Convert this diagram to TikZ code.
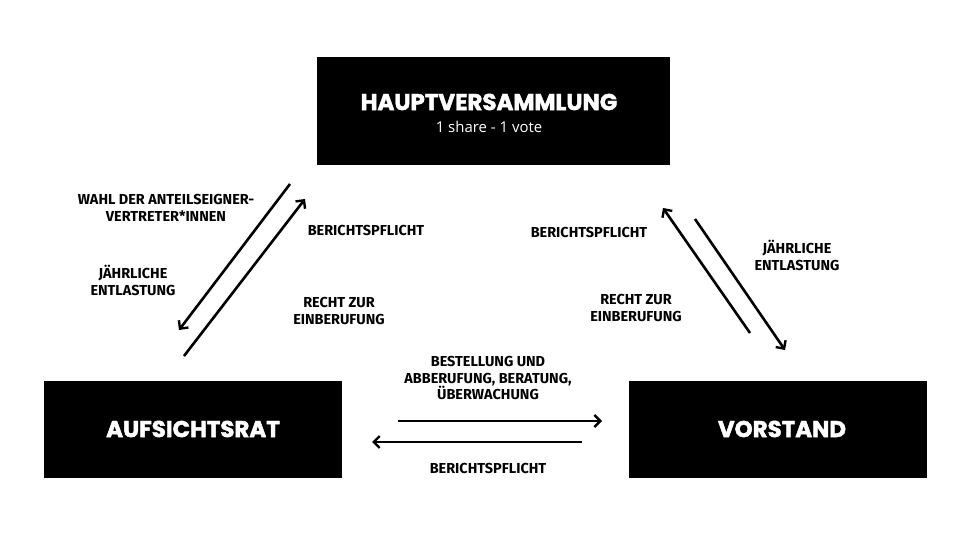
\documentclass[tikz,border=0pt]{standalone}
\usepackage{fontspec}
\setmainfont{Fira Sans}
\newfontfamily\boxfont{Poppins}[BoldFeatures={FakeBold=2}]
\newfontfamily\subfont{Open Sans}
\usetikzlibrary{arrows.meta}
\begin{document}
\begin{tikzpicture}[x=1bp,y=-1bp,
  organ/.style={fill=black,inner sep=0pt},
  title/.style={text=white,font=\boxfont\bfseries\fontsize{23}{26}\selectfont,inner sep=0pt},
  lbl/.style={font=\fontsize{14.5}{17}\selectfont\bfseries,align=center,inner sep=0pt},
  flow/.style={line width=2.6bp,-{Straight Barb[length=6bp,width=12bp,line width=2.4bp]}}]
\useasboundingbox (0,0) rectangle (968,544);
% boxes
\node[organ,minimum width=353bp,minimum height=108bp] (hv) at (493.5,111) {};
\node[organ,minimum width=298bp,minimum height=97bp] (ar) at (193,429.5) {};
\node[organ,minimum width=298bp,minimum height=97bp] (vs) at (778,429.5) {};
\node[title] (hvt) at (489,102) {HAUPTVERSAMMLUNG};
\node[text=white,font=\subfont\fontsize{15}{17}\selectfont,inner sep=0pt] (hvs) at (489,127) {1 share - 1 vote};
\node[title] (art) at (193,429) {AUFSICHTSRAT};
\node[title] (vst) at (782,429) {VORSTAND};
% arrow end points
\coordinate (l1a) at (290,184);
\coordinate (l1b) at (179,330);
\coordinate (l2a) at (184,356);
\coordinate (l2b) at (305,199);
\coordinate (r1a) at (750,333);
\coordinate (r1b) at (663,208);
\coordinate (r2a) at (695,219);
\coordinate (r2b) at (785,350);
\coordinate (b1a) at (398,421);
\coordinate (b1b) at (602,421);
\coordinate (b2a) at (582,442);
\coordinate (b2b) at (372,442);
\draw[flow] (l1a) -- (l1b);
\draw[flow] (l2a) -- (l2b);
\draw[flow] (r1a) -- (r1b);
\draw[flow] (r2a) -- (r2b);
\draw[flow] (b1a) -- (b1b);
\draw[flow] (b2a) -- (b2b);
% labels
\node[lbl] (t1) at (166,208) {WAHL DER ANTEILSEIGNER-\\VERTRETER*INNEN};
\node[lbl] (t2) at (133,280) {JÄHRLICHE\\ENTLASTUNG};
\node[lbl] (t3) at (366,230) {BERICHTSPFLICHT};
\node[lbl] (t4) at (339,311) {RECHT ZUR\\EINBERUFUNG};
\node[lbl] (t5) at (589,232) {BERICHTSPFLICHT};
\node[lbl] (t6) at (636,308) {RECHT ZUR\\EINBERUFUNG};
\node[lbl] (t7) at (797,255) {JÄHRLICHE\\ENTLASTUNG};
\node[lbl] (t8) at (488,378) {BESTELLUNG UND\\ABBERUFUNG, BERATUNG,\\ÜBERWACHUNG};
\node[lbl] (t9) at (488,468) {BERICHTSPFLICHT};
\end{tikzpicture}
\end{document}
